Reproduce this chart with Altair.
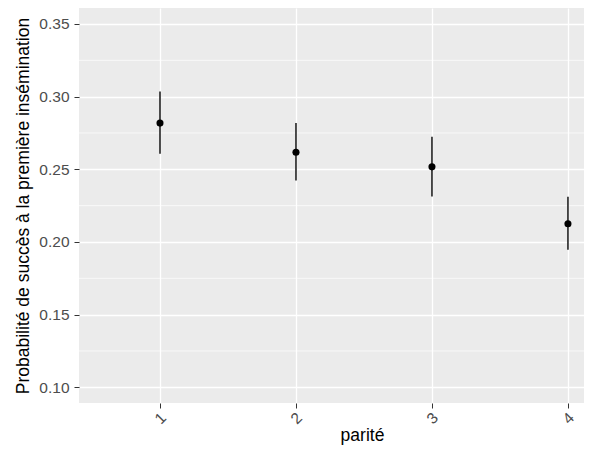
import altair as alt
import pandas as pd

parite = [1, 2, 3, 4]
prob = [0.2818, 0.2618, 0.2517, 0.2125]
lower = [0.2607, 0.2423, 0.2313, 0.1946]
upper = [0.3036, 0.2818, 0.2724, 0.2311]

y_major = [0.10, 0.15, 0.20, 0.25, 0.30, 0.35]
y_minor = [0.125, 0.175, 0.225, 0.275, 0.325]

df = pd.DataFrame({"parite": parite, "prob": prob, "lower": lower, "upper": upper})
minor_df = pd.DataFrame({"v": y_minor})

FONT = "Liberation Sans"
ydom = [0.0892, 0.3610]
xdom = [0.4044, 4.118]

xscale = alt.Scale(domain=xdom, nice=False, zero=False)
yscale = alt.Scale(domain=ydom, nice=False, zero=False)

yaxis = alt.Axis(values=y_major, format=".2f",
                 title="Probabilité de succès à la première insémination",
                 tickSize=5, labelPadding=5, titleX=-51, titleBaseline="alphabetic",
                 titleAngle=270, titleAlign="center")

minor = alt.Chart(minor_df).mark_rule(color="white", strokeWidth=0.7).encode(
    y=alt.Y("v:Q", scale=yscale, axis=yaxis)
)

bars = alt.Chart(df).mark_rule(color="#222222", strokeWidth=1.6).encode(
    x=alt.X("parite:Q", scale=xscale,
            axis=alt.Axis(values=parite, format="d", title="parité", labelAngle=-45,
                          labelAlign="center", labelBaseline="middle", labelPadding=10,
                          tickSize=5, titleX=283, titleY=37, titleBaseline="alphabetic",
                          titleAlign="center")),
    y=alt.Y("lower:Q", scale=yscale, axis=yaxis),
    y2="upper:Q",
)

points = alt.Chart(df).mark_circle(color="black", opacity=1, size=50).encode(
    x=alt.X("parite:Q", scale=xscale),
    y=alt.Y("prob:Q", scale=yscale),
)

chart = alt.layer(minor, bars, points).properties(
    width=505, height=395,
    autosize=alt.AutoSizeParams(type="none"),
    padding={"left": 71, "top": 0, "right": 0, "bottom": 43},
    background="white",
).configure_view(
    fill="#EBEBEB", stroke=None
).configure_axis(
    grid=True, gridColor="white", gridWidth=1.3, domain=False,
    tickColor="#333333", labelColor="#4D4D4D", labelFont=FONT, labelFontSize=15.5,
    titleFont=FONT, titleFontSize=17.5, titleColor="black", titleFontWeight="normal",
)

chart.save("out.html", embed_options={"renderer": "svg", "actions": False})
